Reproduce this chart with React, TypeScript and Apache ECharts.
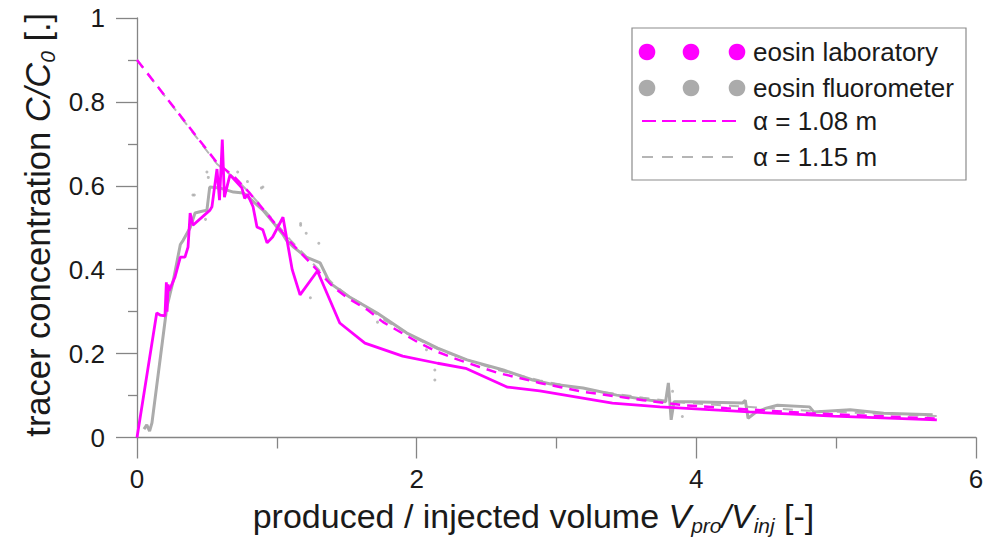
import React, { useEffect, useRef } from "react";
import * as echarts from "echarts";

// ---- data ----
// eosin laboratory (magenta solid trace): [V_pro/V_inj, C/C0]
const labData: number[][] = [
  [0, 0], [0.141, 0.297], [0.165, 0.292], [0.2, 0.29], [0.21, 0.37], [0.215, 0.3],
  [0.222, 0.365], [0.23, 0.35], [0.272, 0.383], [0.31, 0.43], [0.343, 0.43],
  [0.365, 0.454], [0.38, 0.535], [0.4, 0.506], [0.522, 0.542], [0.536, 0.55],
  [0.572, 0.64], [0.59, 0.566], [0.61, 0.71], [0.625, 0.573], [0.665, 0.626],
  [0.75, 0.595], [0.77, 0.57], [0.79, 0.58], [0.83, 0.55], [0.858, 0.502],
  [0.9, 0.495], [0.93, 0.464], [0.97, 0.478], [1.044, 0.525], [1.11, 0.4],
  [1.166, 0.34], [1.29, 0.397], [1.45, 0.273], [1.63, 0.225], [1.9, 0.194],
  [2.15, 0.177], [2.35, 0.165], [2.65, 0.12], [2.88, 0.111], [3.4, 0.082],
  [3.74, 0.073], [4.38, 0.061], [4.98, 0.051], [5.72, 0.042],
];

// eosin fluorometer (grey dense trace)
const fluoData: number[][] = [
  [0.05, 0.02], [0.07, 0.03], [0.09, 0.015], [0.107, 0.035], [0.213, 0.31],
  [0.26, 0.375], [0.31, 0.46], [0.33, 0.47], [0.38, 0.5], [0.415, 0.535],
  [0.45, 0.538], [0.5, 0.542], [0.52, 0.597], [0.59, 0.595], [0.69, 0.585],
  [0.76, 0.583], [0.82, 0.566], [0.9, 0.542], [0.97, 0.514], [1.045, 0.483],
  [1.07, 0.47], [1.12, 0.454], [1.21, 0.43], [1.31, 0.416], [1.38, 0.368],
  [1.52, 0.335], [1.72, 0.296], [1.93, 0.249], [2.15, 0.213], [2.36, 0.185],
  [2.62, 0.161], [2.83, 0.137], [2.95, 0.128], [3.19, 0.118], [3.43, 0.101],
  [3.67, 0.089], [3.78, 0.085], [3.8, 0.13], [3.82, 0.042], [3.84, 0.085],
  [3.96, 0.085], [4.33, 0.082], [4.35, 0.089], [4.37, 0.046], [4.43, 0.061],
  [4.5, 0.07], [4.58, 0.077], [4.81, 0.073], [4.84, 0.061], [5.1, 0.066],
  [5.34, 0.058], [5.69, 0.054],
];

// scattered fluorometer outliers
const fluoOutliers: number[][] = [
  [0.4, 0.578], [0.41, 0.578], [0.49, 0.52], [0.5, 0.633], [0.51, 0.62],
  [0.72, 0.633], [0.79, 0.61], [0.89, 0.595], [0.9, 0.597], [1.17, 0.506],
  [1.17, 0.51], [1.21, 0.487], [1.24, 0.333], [1.3, 0.463], [1.72, 0.275],
  [2.07, 0.209], [2.13, 0.161], [2.13, 0.137], [3.83, 0.11], [3.9, 0.05],
];

// model fit alpha = 1.08 m (magenta dashed)
const fitLab: number[][] = [
  [0, 0.9], [0.572, 0.655], [0.7, 0.62], [0.8, 0.585], [0.9, 0.545], [1.0, 0.505],
  [1.1, 0.465], [1.2, 0.43], [1.3, 0.395], [1.4, 0.36], [1.5, 0.334], [1.65, 0.304],
  [1.76, 0.275], [2.02, 0.225], [2.15, 0.204], [2.3, 0.185], [2.45, 0.168],
  [2.58, 0.154], [2.72, 0.143], [2.88, 0.13], [3.03, 0.12], [3.17, 0.11],
  [3.62, 0.089], [3.91, 0.077], [4.22, 0.07], [4.8, 0.058], [5.72, 0.045],
];

// model fit alpha = 1.15 m (grey dashed)
const fitFluo: number[][] = [
  [0, 0.9], [0.572, 0.652], [0.7, 0.618], [0.8, 0.585], [0.9, 0.547], [1.0, 0.508],
  [1.1, 0.47], [1.2, 0.435], [1.3, 0.4], [1.4, 0.367], [1.5, 0.34], [1.65, 0.31],
  [1.76, 0.282], [2.02, 0.232], [2.15, 0.211], [2.3, 0.192], [2.45, 0.175],
  [2.58, 0.161], [2.72, 0.149], [2.88, 0.136], [3.03, 0.126], [3.17, 0.116],
  [3.62, 0.095], [3.91, 0.083], [4.22, 0.076], [4.8, 0.064], [5.72, 0.051],
];

const legendLabels = ["eosin laboratory", "eosin fluorometer", "α = 1.08 m", "α = 1.15 m"];

const MAGENTA = "#ff00ff";
const GREY = "#ababab";
const AXIS = "#858585";
const TEXT = "#1a1a1a";
const FONT = "'Liberation Sans', Arial, Helvetica, sans-serif";

export default function App() {
  const ref = useRef<HTMLDivElement>(null);

  useEffect(() => {
    if (!ref.current) return;
    const chart = echarts.init(ref.current, undefined, { renderer: "svg" });

    const richName = {
      i: { fontSize: 34, fontStyle: "italic", fontFamily: FONT, color: TEXT, lineHeight: 40 },
      sub: { fontSize: 21, fontStyle: "italic", fontFamily: FONT, color: TEXT, lineHeight: 18, verticalAlign: "bottom" },
    };

    const legendRows = [52, 88, 121, 157];
    const circleXs = [647, 691, 737];
    const legendEls: any[] = [
      { type: "rect", shape: { x: 632, y: 28, width: 334, height: 152 }, style: { fill: "#fff", stroke: "#8c8c8c", lineWidth: 1.2 } },
    ];
    circleXs.forEach((cx) => {
      legendEls.push({ type: "circle", shape: { cx, cy: legendRows[0], r: 8.3 }, style: { fill: MAGENTA } });
      legendEls.push({ type: "circle", shape: { cx, cy: legendRows[1], r: 8.3 }, style: { fill: GREY } });
    });
    legendEls.push({ type: "line", shape: { x1: 642, y1: legendRows[2], x2: 736, y2: legendRows[2] }, style: { stroke: MAGENTA, lineWidth: 2, lineDash: [14, 6] } });
    legendEls.push({ type: "line", shape: { x1: 642, y1: legendRows[3], x2: 736, y2: legendRows[3] }, style: { stroke: "#b5b5b5", lineWidth: 2, lineDash: [11, 9] } });
    legendLabels.forEach((t, i) => {
      legendEls.push({ type: "text", x: 753, y: legendRows[i], style: { text: t, fontSize: 26, fontFamily: FONT, fill: TEXT, verticalAlign: "middle", align: "left" } });
    });

    chart.setOption({
      animation: false,
      backgroundColor: "#fff",
      grid: { left: 137, right: 18, top: 18, bottom: 105.5, containLabel: false },
      xAxis: {
        type: "value",
        min: 0,
        max: 6,
        interval: 2,
        axisLine: { show: true, onZero: false, lineStyle: { color: AXIS, width: 1.3 } },
        axisTick: { show: true, inside: false, length: 21, lineStyle: { color: AXIS, width: 1.3 } },
        minorTick: { show: true, splitNumber: 2, length: 11, lineStyle: { color: AXIS, width: 1.3 } },
        splitLine: { show: false },
        minorSplitLine: { show: false },
        axisLabel: { show: true, fontSize: 26, color: TEXT, fontFamily: FONT, margin: 28 },
        name: "produced / injected volume {i|V}{sub|pro}{i|/V}{sub|inj} [-]",
        nameLocation: "middle",
        nameGap: 47,
        nameTextStyle: {
          fontSize: 34,
          color: TEXT,
          fontFamily: FONT,
          lineHeight: 40,
          padding: [0, 46, 0, 0],
          rich: richName,
        },
      },
      yAxis: {
        type: "value",
        min: 0,
        max: 1,
        interval: 0.2,
        axisLine: { show: true, onZero: false, lineStyle: { color: AXIS, width: 1.3 } },
        axisTick: { show: true, inside: false, length: 21, lineStyle: { color: AXIS, width: 1.3 } },
        minorTick: { show: true, splitNumber: 2, length: 9, lineStyle: { color: AXIS, width: 1.3 } },
        splitLine: { show: false },
        minorSplitLine: { show: false },
        axisLabel: { show: true, fontSize: 26, color: TEXT, fontFamily: FONT, margin: 32 },
        name: "tracer concentration {i|C/C}{sub|0} [.]",
        nameLocation: "middle",
        nameGap: 75,
        nameTextStyle: {
          fontSize: 34.5,
          color: TEXT,
          fontFamily: FONT,
          lineHeight: 40,
          padding: [0, 0, 0, 6],
          rich: {
            i: { ...richName.i, fontSize: 34.5 },
            sub: richName.sub,
          },
        },
      },
      series: [
        { name: "α = 1.15 m", type: "line", data: fitFluo, symbol: "none", lineStyle: { color: "#b5b5b5", width: 2, type: [10, 8] }, z: 1 },
        { name: "eosin fluorometer", type: "line", data: fluoData, symbol: "none", lineStyle: { color: GREY, width: 3 }, z: 2 },
        { name: "eosin fluorometer outliers", type: "scatter", data: fluoOutliers, symbol: "circle", symbolSize: 3, itemStyle: { color: GREY }, z: 2 },
        { name: "α = 1.08 m", type: "line", data: fitLab, symbol: "none", lineStyle: { color: MAGENTA, width: 2.5, type: [10, 7] }, z: 3 },
        { name: "eosin laboratory", type: "line", data: labData, symbol: "none", lineStyle: { color: MAGENTA, width: 2.8 }, z: 4 },
      ],
      graphic: { elements: [{ type: "group", z: 100, children: legendEls }] },
    });

    return () => chart.dispose();
  }, []);

  return (
    <div ref={ref} style={{ position: "fixed", left: 0, top: 0, width: 994, height: 543, background: "#fff" }} />
  );
}
